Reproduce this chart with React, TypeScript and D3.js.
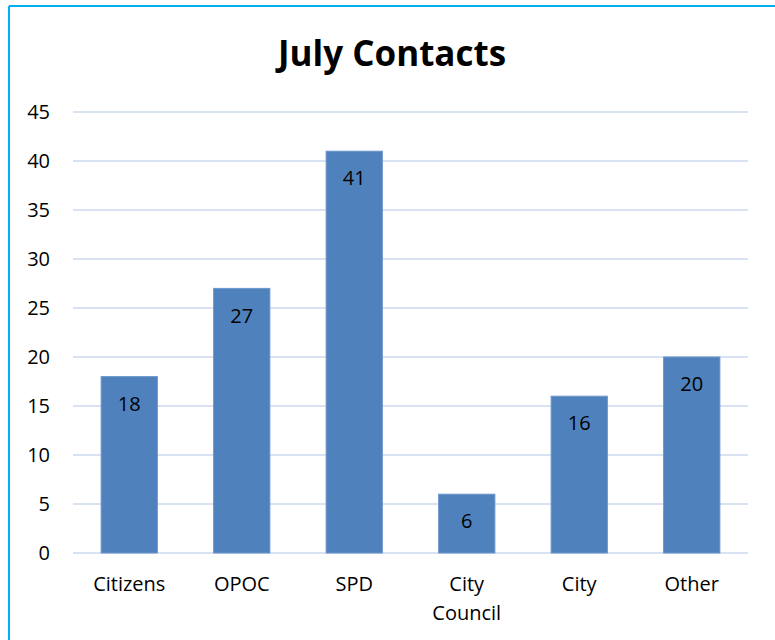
import React from "react";
import * as d3 from "d3";

const categories: string[][] = [["Citizens"], ["OPOC"], ["SPD"], ["City", "Council"], ["City"], ["Other"]];
const values: number[] = [18, 27, 41, 6, 16, 20];
const yTicks: number[] = [0, 5, 10, 15, 20, 25, 30, 35, 40, 45];
const title = "July Contacts";

const W = 775;
const H = 640;
const left = 73;
const right = 748;
const top = 112;
const bottom = 553;
const font = "'Open Sans', 'Liberation Sans', sans-serif";

export default function App() {
  const x = d3
    .scaleBand<number>()
    .domain(categories.map((_, i) => i))
    .range([left, right])
    .paddingInner(0.5)
    .paddingOuter(0.25);
  const y = d3.scaleLinear().domain([0, 45]).range([bottom, top]);

  return (
    <svg
      width={W}
      height={H}
      style={{ position: "absolute", left: 0, top: 0, background: "#fff" }}
    >
      <rect x={0} y={0} width={W} height={H} fill="#fff" />
      <line x1={9} y1={6} x2={W} y2={6} stroke="#00B0F0" strokeWidth={2} />
      <line x1={9} y1={6} x2={9} y2={H} stroke="#00B0F0" strokeWidth={2} />
      <text
        x={392}
        y={66}
        textAnchor="middle"
        fontFamily={font}
        fontWeight="bold"
        fontSize={35}
        fill="#000"
      >
        {title}
      </text>
      {yTicks.map((t) => (
        <g key={t}>
          <line x1={left} x2={right} y1={y(t)} y2={y(t)} stroke="#D9E2F3" strokeWidth={2} />
          <text
            x={50}
            y={y(t)}
            dy="0.36em"
            textAnchor="end"
            fontFamily={font}
            fontSize={20}
            fill="#000"
          >
            {t}
          </text>
        </g>
      ))}
      {values.map((v, i) => (
        <g key={i}>
          <rect
            x={x(i)!}
            y={y(v)}
            width={x.bandwidth()}
            height={y(0) - y(v)}
            fill="#4F81BD"
            stroke="#6B96CB"
            strokeWidth={1}
          />
          <text
            x={x(i)! + x.bandwidth() / 2}
            y={y(v) + 27}
            dy="0.36em"
            textAnchor="middle"
            fontFamily={font}
            fontSize={20}
            fill="#000"
          >
            {v}
          </text>
          {categories[i].map((line, j) => (
            <text
              key={j}
              x={x(i)! + x.bandwidth() / 2}
              y={591 + j * 29}
              textAnchor="middle"
              fontFamily={font}
              fontSize={20}
              fill="#000"
            >
              {line}
            </text>
          ))}
        </g>
      ))}
    </svg>
  );
}
